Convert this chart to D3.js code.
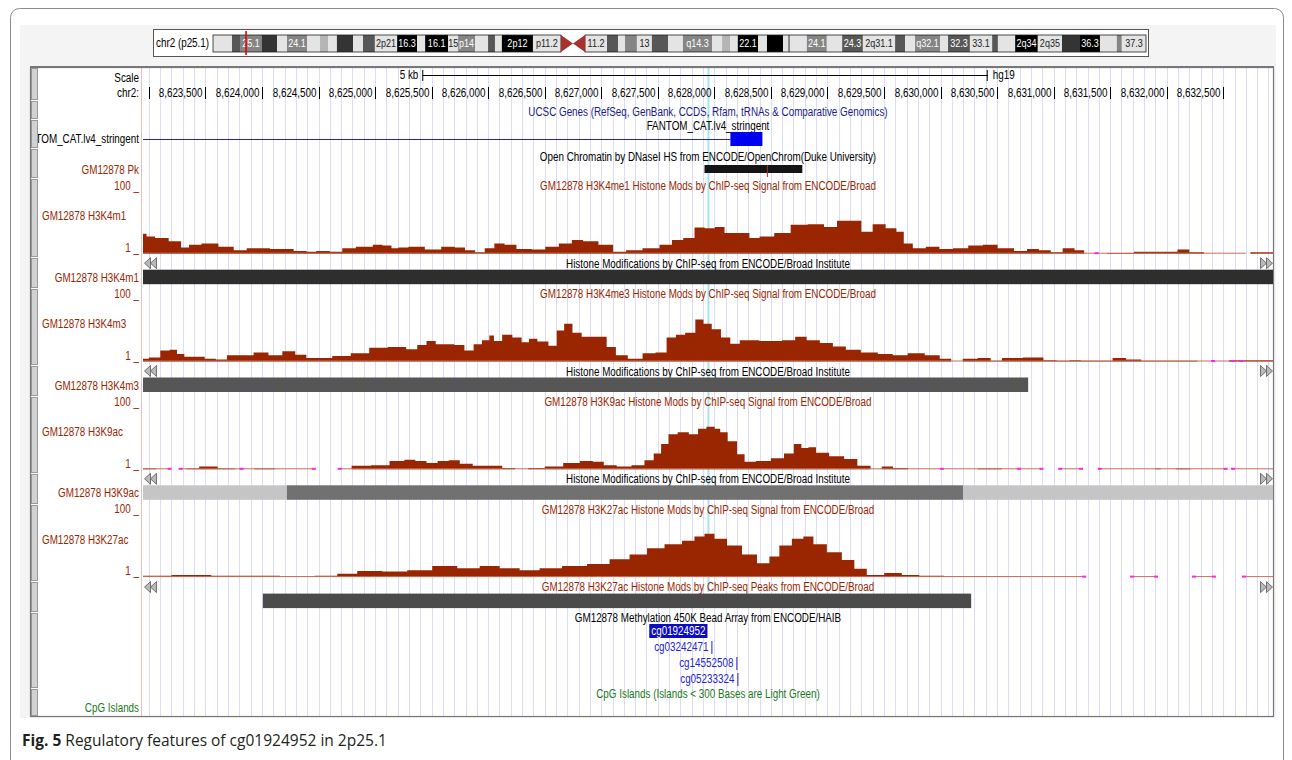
<!DOCTYPE html>
<html>
<head>
<meta charset="utf-8">
<script src="https://cdn.jsdelivr.net/npm/d3@7"></script>
<style>
  html, body { margin: 0; padding: 0; background: #ffffff; }
  svg { display: block; }
  text { font-family: "Liberation Sans", Arial, sans-serif; font-size: 12px; }
  text.bandlab { font-size: 11px; }
  .caption { font-family: "Open Sans", "Noto Sans", sans-serif; font-size: 15.5px; fill: #231f20; }
</style>
</head>
<body>
<svg id="fig" width="1292" height="760"></svg>
<script>
// ---------------- data ----------------
const chromName = "chr2";
const cytoLabel = "chr2 (p25.1)";
const assembly = "hg19";
const viewRange = [8622948, 8632940];          // displayed window, bp
const chromLengthMb = 243.2;
const cursorMb = 8.62;                          // window position on the ideogram

// cytobands: [startMb, endMb, stain, label]
const cytoBands = [
  [0, 4.95, "gneg", ""], [4.95, 7.04, "gpos75", ""], [7.04, 12.77, "gpos50", "25.1"],
  [12.77, 16.68, "gpos90", ""], [16.68, 19.29, "gneg", ""], [19.29, 24.5, "gpos50", "24.1"],
  [24.5, 27.9, "gneg", ""], [27.9, 30.0, "gpos25", ""], [30.0, 32.3, "gneg", ""],
  [32.3, 36.5, "gpos90", ""], [36.5, 39.1, "gneg", ""], [39.1, 42.2, "gpos75", ""],
  [42.2, 48.0, "gneg", "2p21"], [48.0, 53.2, "gpos100", "16.3"], [53.2, 55.3, "gneg", ""],
  [55.3, 61.3, "gpos100", "16.1"], [61.3, 63.9, "gneg", "15"], [63.9, 68.3, "gpos50", "p14"],
  [68.3, 71.7, "gneg", ""], [71.7, 73.5, "gpos75", ""], [73.5, 75.3, "gneg", ""],
  [75.3, 83.4, "gpos100", "2p12"], [83.4, 90.7, "gneg", "p11.2"],
  [96.97, 102.7, "gneg", "11.2"], [102.7, 105.6, "gpos75", ""], [105.6, 107.4, "gneg", ""],
  [107.4, 110.5, "gpos50", ""], [110.5, 114.4, "gneg", "13"], [114.4, 118.6, "gpos75", ""],
  [118.6, 122.5, "gneg", ""], [122.5, 130.1, "gpos50", "q14.3"], [130.1, 132.7, "gneg", ""],
  [132.7, 134.8, "gpos25", ""], [134.8, 136.8, "gneg", ""], [136.8, 142.1, "gpos100", "22.1"],
  [142.1, 144.4, "gneg", ""], [144.4, 148.6, "gpos100", ""], [148.6, 149.9, "gneg", ""],
  [149.9, 150.4, "gpos50", ""], [150.4, 154.8, "gneg", ""], [154.8, 160.0, "gpos50", "24.1"],
  [160.0, 164.0, "gneg", ""], [164.0, 169.4, "gpos75", "24.3"], [169.4, 177.8, "gneg", "2q31.1"],
  [177.8, 180.4, "gpos75", ""], [180.4, 183.0, "gneg", ""], [183.0, 189.5, "gpos50", "q32.1"],
  [189.5, 191.6, "gneg", ""], [191.6, 197.3, "gpos75", "32.3"], [197.3, 203.1, "gneg", "33.1"],
  [203.1, 204.6, "gpos75", ""], [204.6, 209.1, "gneg", ""], [209.1, 215.0, "gpos100", "2q34"],
  [215.0, 221.3, "gneg", "2q35"], [221.3, 226.0, "gpos90", ""], [226.0, 231.2, "gpos100", "36.3"],
  [231.2, 235.6, "gneg", ""], [235.6, 236.9, "gpos50", ""], [236.9, 243.2, "gneg", "37.3"]
];
const centromereMb = [90.7, 96.97];

// ruler
const rulerTicks = [8623000, 8623500, 8624000, 8624500, 8625000, 8625500, 8626000, 8626500,
  8627000, 8627500, 8628000, 8628500, 8629000, 8629500, 8630000, 8630500, 8631000, 8631500,
  8632000, 8632500];
const scaleBarBp = 5000;
const scaleBarLabel = "5 kb";

// FANTOM CAT transcript (intron line + exon block)
const fantomIntron = [8622948, 8628142];
const fantomExon = [8628142, 8628425];
// DNaseI HS peak and its summit
const dnasePeak = [8627913, 8628778];
const dnaseSummit = 8628469;

// ChIP-seq signal tracks: [bp, signal]
const h3k4me1Signal = [
  [8622948,30],[8623010,26],[8623100,24],[8623250,19],[8623320,10],[8623390,14],[8623540,16],
  [8623690,11],[8623810,6],[8623920,9],[8624220,8],[8624340,5],[8624450,4],[8624510,5],
  [8624690,4],[8624730,9],[8624930,11],[8625030,14],[8625100,13],[8625190,9],[8625220,10],
  [8625370,11],[8625510,7],[8625660,11],[8625750,10],[8625840,6],[8625930,3],[8626010,9],
  [8626100,16],[8626190,14],[8626310,8],[8626460,7],[8626550,11],[8626700,16],[8626780,21],
  [8626900,19],[8627050,14],[8627160,4],[8627280,6],[8627450,9],[8627580,14],[8627670,21],
  [8627780,24],[8627870,39],[8627960,38],[8628050,40],[8628130,31],[8628280,31],[8628340,24],
  [8628460,26],[8628600,31],[8628750,43],[8628900,44],[8629040,40],[8629130,49],[8629260,49],
  [8629340,33],[8629460,44],[8629570,38],[8629650,33],[8629700,16],[8629810,9],[8629930,11],
  [8630050,8],[8630170,9],[8630320,13],[8630430,14],[8630580,9],[8630720,5],[8630810,8],
  [8630930,6],[8631020,3],[8631140,9],[8631230,6],[8631310,0],[8631640,2],[8631780,4],
  [8631910,4],[8632050,4],[8632140,7],[8632260,3],[8632400,1],[8632700,0],[8632780,3],[8632940,3]
];
const h3k4me3Signal = [
  [8622948,5],[8623052,7],[8623150,17],[8623216,18],[8623281,12],[8623346,8],[8623444,8],
  [8623543,5],[8623641,4],[8623739,10],[8623869,10],[8623983,14],[8624131,10],[8624229,16],
  [8624360,11],[8624425,6],[8624556,6],[8624687,9],[8624883,13],[8625013,21],[8625210,22],
  [8625340,19],[8625406,25],[8625504,31],[8625569,26],[8625667,26],[8625733,25],[8625847,17],
  [8625896,26],[8625994,32],[8626027,39],[8626075,31],[8626173,40],[8626255,36],[8626337,29],
  [8626386,34],[8626484,30],[8626582,24],[8626631,46],[8626713,56],[8626778,43],[8626876,37],
  [8627007,37],[8627089,22],[8627170,10],[8627300,5],[8627431,13],[8627529,14],[8627627,36],
  [8627693,40],[8627791,43],[8627873,62],[8627935,56],[8628019,48],[8628098,36],[8628184,27],
  [8628266,32],[8628531,31],[8628664,32],[8628766,37],[8628867,32],[8628999,28],[8629097,23],
  [8629229,18],[8629362,14],[8629529,12],[8629626,10],[8629794,13],[8629927,10],[8630059,5],
  [8630130,1],[8630263,5],[8630395,6],[8630492,2],[8630594,6],[8630860,7],[8630960,3],
  [8631093,2],[8631190,3],[8631292,2],[8631455,2],[8631588,6],[8631691,4],[8631857,2],
  [8632188,2],[8632356,1],[8632400,0],[8632700,3],[8632940,3]
];
const h3k9acSignal = [
  [8622948,2],[8623183,0],[8623281,1],[8623379,2],[8623510,5],[8623706,2],[8623820,0],
  [8623837,1],[8624033,2],[8624200,1],[8624458,0],[8624702,1],[8624883,6],[8625046,7],
  [8625210,13],[8625307,15],[8625406,13],[8625504,10],[8625602,13],[8625700,14],[8625798,9],
  [8625929,6],[8626059,6],[8626190,3],[8626287,1],[8626419,3],[8626582,5],[8626745,10],
  [8626876,13],[8626974,12],[8627071,7],[8627202,5],[8627333,7],[8627431,14],[8627497,24],
  [8627562,38],[8627627,52],[8627725,55],[8627824,52],[8627889,60],[8627971,63],[8628036,60],
  [8628068,55],[8628168,42],[8628234,23],[8628301,12],[8628434,13],[8628566,17],[8628666,24],
  [8628740,38],[8628799,32],[8628866,33],[8628932,25],[8629098,20],[8629198,16],[8629331,6],
  [8629431,1],[8629530,5],[8629630,3],[8629796,1],[8629996,0],[8630196,1],[8630461,2],
  [8630627,1],[8630700,0],[8631823,1],[8631870,0],[8631924,2],[8631970,0],[8632188,2],
  [8632230,0],[8632736,1],[8632780,0],[8632940,0]
];
const h3k27acSignal = [
  [8622948,3],[8623452,4],[8623650,3],[8623982,3],[8624335,2],[8624600,3],[8624732,6],
  [8624953,10],[8625174,9],[8625395,11],[8625616,17],[8625837,14],[8626013,17],[8626190,14],
  [8626367,11],[8626543,14],[8626764,17],[8626985,20],[8627162,27],[8627339,34],[8627471,43],
  [8627648,49],[8627780,54],[8627869,60],[8627957,64],[8628046,57],[8628178,47],[8628311,34],
  [8628443,21],[8628531,31],[8628619,47],[8628752,57],[8628823,60],[8628929,49],[8629061,37],
  [8629194,26],[8629282,13],[8629414,4],[8629591,7],[8629724,4],[8629900,3],[8630165,2],
  [8631270,0],[8632683,1],[8632940,1]
];

// spans that carry data in each signal track, and the zero-data markers
const h3k4me1Covered = [[8622948, 8632700], [8632780, 8632940]];
const h3k4me1Empty = [8631380];
const h3k4me3Covered = [[8622948, 8632940]];
const h3k4me3Empty = [8632410, 8632586, 8632657];
const h3k9acCovered = [[8622948, 8623183], [8623281, 8624458], [8624687, 8630893],
  [8631058, 8631243], [8631408, 8632521], [8632586, 8632940]];
const h3k9acEmpty = [8623183, 8623281, 8623820, 8624458, 8624687, 8630012, 8630694, 8630893,
  8631058, 8631243, 8631408, 8632521, 8632586];
const h3k27acCovered = [[8622948, 8631270], [8631694, 8631906], [8632241, 8632418], [8632683, 8632940]];
const h3k27acEmpty = [8631270, 8631694, 8631906, 8632241, 8632418, 8632683];

const signalRange = [1, 100];

// Broad histone segments / peaks: [start, end, score]
const h3k4m1Segments = [[8622948, 8632940, 1000]];
const h3k4m3Segments = [[8622948, 8630775, 780]];
const h3k9acSegments = [[8622948, 8624220, 160], [8624220, 8630201, 630], [8630201, 8632940, 160]];
const h3k27acPeaks = [[8624008, 8630271, 840]];

// Methylation 450K probes
const probeNames = ["cg01924952", "cg03242471", "cg14552508", "cg05233324"];
const probePos = [8627948, 8627974, 8628195, 8628204];

// ---------------- drawing ----------------
const svg = d3.select("#fig");
const dataX0 = 143, dataX1 = 1273, midX = (dataX0 + dataX1) / 2;
const x = d3.scaleLinear().domain(viewRange).range([dataX0, dataX1]);
const RED = "#992600";
const fmt = d3.format(",");
const NARROW = 0.82;   // condensed glyph width, browser-style label font

// squeeze a text element horizontally to a narrow face
function sq(sel) {
  sel.each(function () {
    const l = this.getComputedTextLength();
    this.setAttribute("textLength", (l * NARROW).toFixed(2));
    this.setAttribute("lengthAdjust", "spacingAndGlyphs");
  });
  return sel;
}
const widthOf = sel => +sel.attr("textLength");

// outer figure panel
svg.append("rect").attr("x", 10.5).attr("y", 8.5).attr("width", 1273).attr("height", 800)
  .attr("rx", 9).attr("fill", "#fff").attr("stroke", "#8c8c8c").attr("stroke-width", 1);

// browser image backdrop
svg.append("rect").attr("x", 20).attr("y", 25).attr("width", 1256).attr("height", 693).attr("fill", "#f4f4f4");

// ---- ideogram
const ideo = svg.append("g");
ideo.append("rect").attr("x", 153.5).attr("y", 29.5).attr("width", 995).attr("height", 27)
  .attr("fill", "#ffffff").attr("stroke", "#555").attr("stroke-width", 1);
sq(ideo.append("text").attr("x", 156).attr("y", 43).attr("dy", "0.35em").attr("fill", "#000").text(cytoLabel));

const xi = d3.scaleLinear().domain([0, chromLengthMb]).range([213, 1146]);
const stainFill = { gneg: "#e4e4e4", gpos25: "#b5b5b5", gpos50: "#858585", gpos75: "#575757", gpos90: "#343434", gpos100: "#000000" };
const bandY0 = 35, bandY1 = 52;
ideo.selectAll("rect.band").data(cytoBands).join("rect").attr("class", "band")
  .attr("x", d => xi(d[0])).attr("y", bandY0)
  .attr("width", d => xi(d[1]) - xi(d[0])).attr("height", bandY1 - bandY0)
  .attr("fill", d => stainFill[d[2]]);
// arm outlines
ideo.append("rect").attr("x", xi(0)).attr("y", bandY0).attr("width", xi(centromereMb[0]) - xi(0))
  .attr("height", bandY1 - bandY0).attr("fill", "none").attr("stroke", "#222").attr("stroke-width", 0.8);
ideo.append("rect").attr("x", xi(centromereMb[1])).attr("y", bandY0).attr("width", xi(chromLengthMb) - xi(centromereMb[1]))
  .attr("height", bandY1 - bandY0).attr("fill", "none").attr("stroke", "#222").attr("stroke-width", 0.8);
// centromere
const cenMid = (xi(centromereMb[0]) + xi(centromereMb[1])) / 2, cenY = (bandY0 + bandY1) / 2;
ideo.append("path").attr("fill", "#a8312c")
  .attr("d", `M${xi(centromereMb[0])},${bandY0}L${cenMid},${cenY}L${xi(centromereMb[0])},${bandY1}Z` +
             `M${xi(centromereMb[1])},${bandY0}L${cenMid},${cenY}L${xi(centromereMb[1])},${bandY1}Z`);
sq(ideo.selectAll("text.bandlab").data(cytoBands.filter(d => d[3])).join("text").attr("class", "bandlab")
  .attr("x", d => (xi(d[0]) + xi(d[1])) / 2).attr("y", cenY).attr("dy", "0.35em")
  .attr("text-anchor", "middle")
  .attr("fill", d => (d[2] === "gneg" || d[2] === "gpos25") ? "#222" : "#fff")
  .text(d => d[3]));
ideo.append("line").attr("x1", xi(cursorMb)).attr("x2", xi(cursorMb)).attr("y1", 31).attr("y2", 55)
  .attr("stroke", "#e00000").attr("stroke-width", 1.6);

// ---- browser frame
svg.append("rect").attr("x", 30).attr("y", 67).attr("width", 1244).attr("height", 650).attr("fill", "#fff");

// guidelines every 100 bp
svg.append("g").selectAll("line").data(x.ticks(100)).join("line")
  .attr("x1", d => Math.round(x(d)) + 0.5).attr("x2", d => Math.round(x(d)) + 0.5)
  .attr("y1", 68).attr("y2", 716).attr("stroke", "#dcdcf7").attr("stroke-width", 1);

// label column separator
svg.append("line").attr("x1", 141.5).attr("x2", 141.5).attr("y1", 68).attr("y2", 716)
  .attr("stroke", "#f1bcbc").attr("stroke-width", 1);

// highlight at the probe of interest
svg.append("line").attr("x1", x(probePos[0])).attr("x2", x(probePos[0])).attr("y1", 68).attr("y2", 592)
  .attr("stroke", "#a6e4f4").attr("stroke-width", 2);

// side buttons
const buttonSpans = [[68, 99], [101, 118], [120, 147], [149, 177], [179, 256], [258, 287], [289, 364],
  [366, 395], [397, 472], [474, 503], [505, 580], [582, 611], [613, 687], [689, 715]];
svg.append("g").selectAll("rect").data(buttonSpans).join("rect")
  .attr("x", 31.5).attr("y", d => d[0] + 0.5).attr("width", 6).attr("height", d => d[1] - d[0])
  .attr("fill", "#d2d2d2").attr("stroke", "#9a9a9a").attr("stroke-width", 1);

// frame border
svg.append("rect").attr("x", 30.5).attr("y", 67.5).attr("width", 1243).attr("height", 649)
  .attr("fill", "none").attr("stroke", "#777").attr("stroke-width", 1.2);
svg.append("line").attr("x1", 30).attr("x2", 1274).attr("y1", 67).attr("y2", 67).attr("stroke", "#777").attr("stroke-width", 2);

// label clip
svg.append("clipPath").attr("id", "labclip").append("rect").attr("x", 38).attr("y", 60).attr("width", 103).attr("height", 670);
const left = svg.append("g").attr("clip-path", "url(#labclip)");
function leftLabel(y, txt, color, anchorLeft) {
  return sq(left.append("text").attr("x", anchorLeft ? 42 : 139).attr("y", y).attr("dy", "0.35em")
    .attr("text-anchor", anchorLeft ? "start" : "end").attr("fill", color).text(txt));
}
function title(y, txt, color) {
  return sq(svg.append("text").attr("x", midX).attr("y", y).attr("dy", "0.35em").attr("text-anchor", "middle")
    .attr("fill", color).text(txt));
}

// ---- ruler
leftLabel(78, "Scale", "#000");
leftLabel(93, chromName + ":", "#000");
const sbHalf = (x(viewRange[0] + scaleBarBp) - x(viewRange[0])) / 2;
const sb0 = midX - sbHalf - 3, sb1 = midX + sbHalf - 3;
svg.append("line").attr("x1", sb0).attr("x2", sb1).attr("y1", 75.5).attr("y2", 75.5).attr("stroke", "#000");
svg.append("line").attr("x1", sb0 + 0.5).attr("x2", sb0 + 0.5).attr("y1", 70).attr("y2", 81).attr("stroke", "#000");
svg.append("line").attr("x1", sb1 - 0.5).attr("x2", sb1 - 0.5).attr("y1", 70).attr("y2", 81).attr("stroke", "#000");
sq(svg.append("text").attr("x", sb0 - 4).attr("y", 75).attr("dy", "0.35em").attr("text-anchor", "end").text(scaleBarLabel));
sq(svg.append("text").attr("x", sb1 + 5).attr("y", 75).attr("dy", "0.35em").text(assembly));

const tickG = svg.append("g");
rulerTicks.forEach(t => {
  const tx = Math.round(x(t)) + 0.5;
  tickG.append("line").attr("x1", tx).attr("x2", tx).attr("y1", 87).attr("y2", 99).attr("stroke", "#000");
  const lab = sq(tickG.append("text").attr("x", tx - 3).attr("y", 93).attr("dy", "0.35em")
    .attr("text-anchor", "end").text(fmt(t)));
  if (tx - 3 - widthOf(lab) < dataX0) lab.remove();
});

// ---- genes
title(111.5, "UCSC Genes (RefSeq, GenBank, CCDS, Rfam, tRNAs & Comparative Genomics)", "#1b1b8a");
title(125.5, "FANTOM_CAT.lv4_stringent", "#000");
leftLabel(139, "FANTOM_CAT.lv4_stringent", "#000");
svg.append("line").attr("x1", x(fantomIntron[0])).attr("x2", x(fantomIntron[1])).attr("y1", 139.5).attr("y2", 139.5)
  .attr("stroke", "#2020e0").attr("stroke-width", 1);
svg.append("rect").attr("x", x(fantomExon[0])).attr("y", 132).attr("width", x(fantomExon[1]) - x(fantomExon[0]))
  .attr("height", 14).attr("fill", "#0000f0");

// ---- DNase
title(156.5, "Open Chromatin by DNaseI HS from ENCODE/OpenChrom(Duke University)", "#000");
leftLabel(169.5, "GM12878 Pk", RED);
svg.append("rect").attr("x", x(dnasePeak[0])).attr("y", 165).attr("width", x(dnasePeak[1]) - x(dnasePeak[0]))
  .attr("height", 8).attr("fill", "#141414");
svg.append("line").attr("x1", x(dnaseSummit)).attr("x2", x(dnaseSummit)).attr("y1", 165).attr("y2", 177)
  .attr("stroke", "#9a3a20").attr("stroke-width", 1);

// ---- histone tracks
function arrows(y) {
  const g = svg.append("g").attr("fill", "#b9b9b9").attr("stroke", "#555").attr("stroke-width", 0.8);
  [144.5, 150.5].forEach(a => g.append("path").attr("d", `M${a},${y}L${a + 6},${y - 5.5}L${a + 6},${y + 5.5}Z`));
  [1266.5, 1260.5].forEach(a => g.append("path").attr("d", `M${a + 6},${y}L${a},${y - 5.5}L${a},${y + 5.5}Z`));
}
const greyOf = d3.scaleLinear().domain([0, 1000]).range(["#e2e2e2", "#2e2e2e"]);
function segments(items, y0, y1) {
  svg.append("g").selectAll("rect").data(items).join("rect")
    .attr("x", d => x(d[0])).attr("y", y0).attr("width", d => x(d[1]) - x(d[0])).attr("height", y1 - y0)
    .attr("fill", d => greyOf(d[2]));
}

const signalTracks = [
  { label: "GM12878 H3K4m1", mark: "H3K4me1", data: h3k4me1Signal, covered: h3k4me1Covered, empty: h3k4me1Empty, segs: h3k4m1Segments },
  { label: "GM12878 H3K4m3", mark: "H3K4me3", data: h3k4me3Signal, covered: h3k4me3Covered, empty: h3k4me3Empty, segs: h3k4m3Segments },
  { label: "GM12878 H3K9ac", mark: "H3K9ac", data: h3k9acSignal, covered: h3k9acCovered, empty: h3k9acEmpty, segs: h3k9acSegments },
  { label: "GM12878 H3K27ac", mark: "H3K27ac", data: h3k27acSignal, covered: h3k27acCovered, empty: h3k27acEmpty, segs: null }
];
const trackTop0 = 185.7, trackStep = 107.8;
signalTracks.forEach((t, i) => {
  const top = trackTop0 + i * trackStep;
  const base = top + 68;
  const y = d3.scaleLinear().domain(signalRange).range([base, base - 68]).clamp(true);
  leftLabel(top, `${signalRange[1]} _`, RED);
  leftLabel(top + 62, `${signalRange[0]} _`, RED);
  leftLabel(top + 30.5, t.label, RED, true);
  title(top + 0.5, `GM12878 ${t.mark} Histone Mods by ChIP-seq Signal from ENCODE/Broad`, RED);
  svg.append("path").datum(t.data)
    .attr("fill", RED)
    .attr("d", d3.area().curve(d3.curveStep).x(d => x(d[0])).y0(base).y1(d => y(d[1])));
  svg.append("g").selectAll("line").data(t.covered).join("line")
    .attr("x1", d => x(d[0])).attr("x2", d => x(d[1])).attr("y1", base - 0.5).attr("y2", base - 0.5)
    .attr("stroke", "#c4705c").attr("stroke-width", 1);
  svg.append("g").selectAll("rect").data(t.empty).join("rect")
    .attr("x", d => x(d) - 2).attr("y", base - 1.5).attr("width", 4).attr("height", 2).attr("fill", "#ff22ee");
  if (t.segs) {
    title(base + 9.8, "Histone Modifications by ChIP-seq from ENCODE/Broad Institute", "#000");
    arrows(base + 9.5);
    segments(t.segs, base + 16, base + 30.5);
    leftLabel(base + 23.8, t.label, RED);
  }
});

// ---- H3K27ac peaks
const peaksTitleY = trackTop0 + 3 * trackStep + 78;
title(peaksTitleY, "GM12878 H3K27ac Histone Mods by ChIP-seq Peaks from ENCODE/Broad", RED);
arrows(peaksTitleY);
segments(h3k27acPeaks, peaksTitleY + 6.5, peaksTitleY + 21);

// ---- methylation probes
title(618, "GM12878 Methylation 450K Bead Array from ENCODE/HAIB", "#000");
probeNames.forEach((name, i) => {
  const py = 631 + i * 16;
  const px = x(probePos[i]);
  const lab = sq(svg.append("text").attr("x", px - 3).attr("y", py).attr("dy", "0.35em")
    .attr("text-anchor", "end").attr("fill", i === 0 ? "#fff" : "#2222dd").text(name));
  if (i === 0) {
    const w = widthOf(lab);
    svg.insert("rect", () => lab.node()).attr("x", px - 5 - w).attr("y", py - 7).attr("width", w + 4)
      .attr("height", 14).attr("fill", "#0c0cc4");
  } else {
    svg.append("line").attr("x1", px + 0.5).attr("x2", px + 0.5).attr("y1", py - 6).attr("y2", py + 7)
      .attr("stroke", "#2222dd");
  }
});

// ---- CpG islands
title(694, "CpG Islands (Islands < 300 Bases are Light Green)", "#177a17");
leftLabel(708, "CpG Islands", "#177a17");

// ---- caption
const cap = svg.append("text").attr("class", "caption").attr("x", 22).attr("y", 746);
cap.append("tspan").attr("font-weight", "bold").text("Fig. 5");
cap.append("tspan").text(" Regulatory features of cg01924952 in 2p25.1");
</script>
</body>
</html>
